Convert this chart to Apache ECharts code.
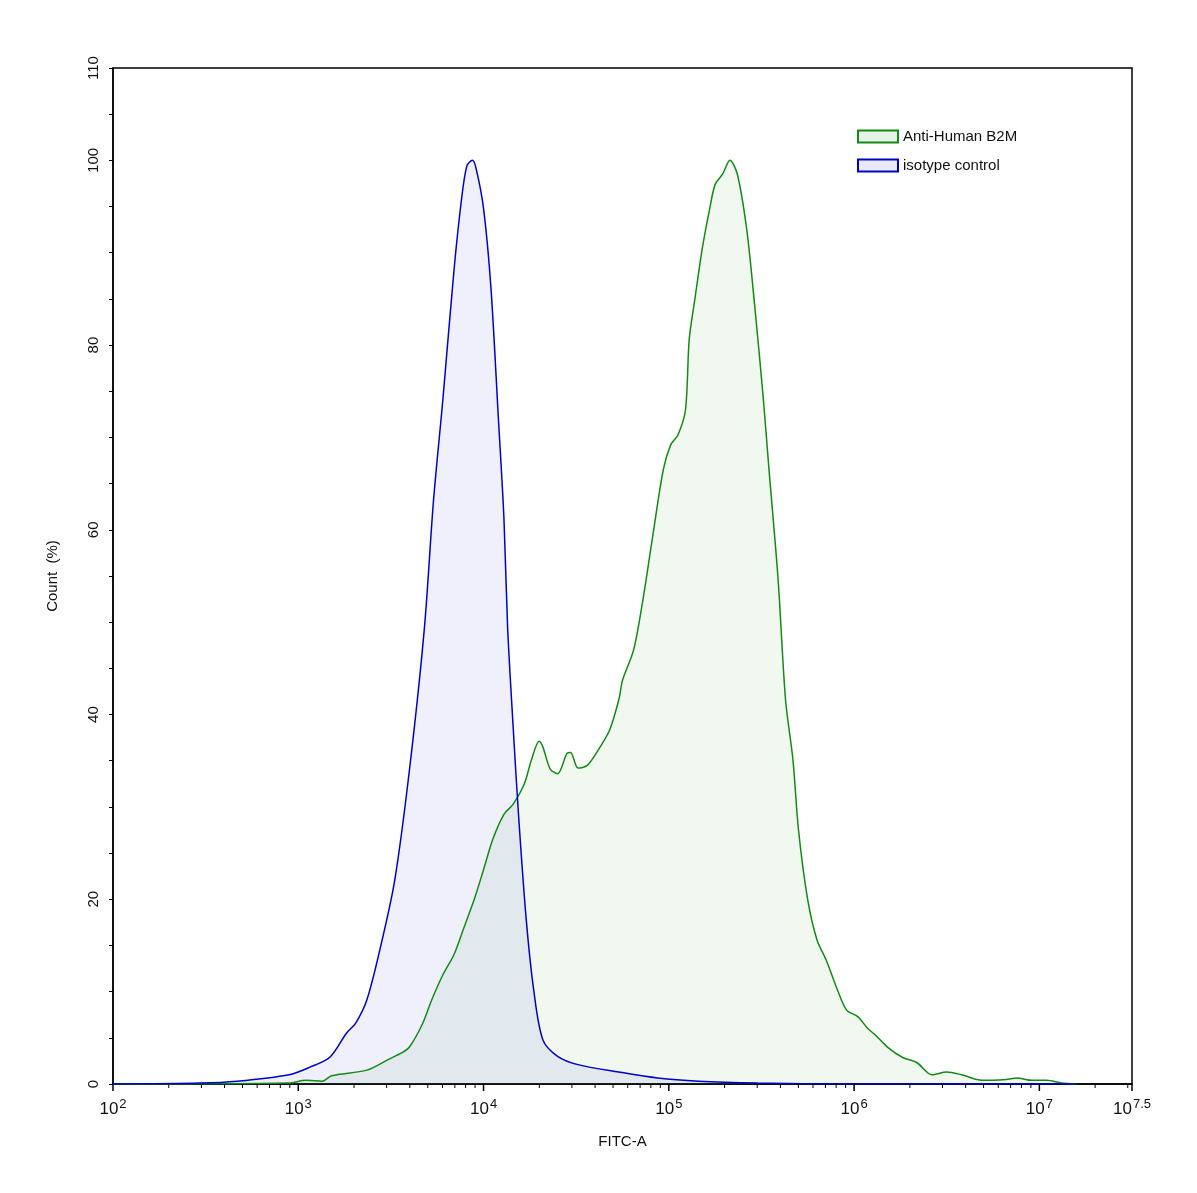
<!DOCTYPE html>
<html>
<head>
<meta charset="utf-8">
<title>FITC-A</title>
<script src="https://cdn.jsdelivr.net/npm/echarts@6/dist/echarts.min.js"></script>
<style>
    body { margin: 0; background: #fff; }
    #main { width: 1197px; height: 1193px; }
</style>
</head>
<body>
<div id="main"></div>
<script>
    // x values are log10(FITC-A)
    var isoX = [2.00, 2.47, 2.67, 2.95, 3.06, 3.17, 3.26, 3.31, 3.37, 3.44, 3.52, 3.60, 3.68, 3.73, 3.78, 3.84, 3.88, 3.91, 3.94, 3.96, 4.00, 4.04, 4.08, 4.11, 4.13, 4.16, 4.19, 4.23, 4.27, 4.32, 4.40, 4.51, 4.73, 4.94, 5.16, 5.48, 5.96, 7.20];
    var isoY = [0, 0.1, 0.3, 1.0, 1.8, 2.9, 5.5, 6.6, 9.1, 14.5, 22.0, 34.0, 49.2, 63.2, 74.0, 88.0, 95.6, 99.4, 100, 99.1, 94.8, 86.2, 72.1, 61.3, 49.4, 38.6, 28.8, 17.9, 10.3, 4.8, 3.0, 2.1, 1.3, 0.65, 0.3, 0.1, 0, 0];

    var b2mX = [2.00, 2.95, 3.04, 3.13, 3.18, 3.37, 3.49, 3.56, 3.60, 3.67, 3.72, 3.78, 3.84, 3.89, 3.95, 4.00, 4.05, 4.11, 4.16, 4.22, 4.26, 4.30, 4.32, 4.36, 4.40, 4.45, 4.47, 4.51, 4.56, 4.62, 4.68, 4.73, 4.75, 4.81, 4.86, 4.91, 4.97, 5.01, 5.05, 5.09, 5.11, 5.14, 5.18, 5.22, 5.25, 5.29, 5.33, 5.37, 5.42, 5.46, 5.51, 5.54, 5.59, 5.63, 5.67, 5.70, 5.75, 5.80, 5.85, 5.91, 5.96, 6.02, 6.07, 6.12, 6.18, 6.26, 6.34, 6.42, 6.50, 6.58, 6.69, 6.82, 6.88, 6.96, 7.04, 7.12, 7.20];
    var b2mY = [0, 0.1, 0.4, 0.3, 0.9, 1.5, 2.7, 3.4, 4.0, 6.5, 9.1, 11.8, 14.0, 16.7, 20.0, 23.2, 26.5, 29.2, 30.3, 32.5, 35.2, 37.1, 36.5, 34.1, 33.6, 35.8, 35.9, 34.2, 34.5, 36.2, 38.3, 41.6, 43.7, 47.0, 52.4, 58.9, 66.5, 69.2, 70.3, 73.0, 80.6, 84.9, 90.4, 94.7, 97.4, 98.5, 100, 98.5, 92.6, 85.0, 74.2, 66.7, 54.6, 41.6, 35.1, 27.5, 19.9, 15.6, 13.4, 10.2, 8.0, 7.3, 6.1, 5.2, 4.0, 2.9, 2.3, 1.0, 1.3, 1.0, 0.4, 0.5, 0.65, 0.4, 0.4, 0.1, 0];

    var yLabels = [0, 20, 40, 60, 80, 100, 110];

    // log tick positions: decades (major) and 2..9 (minor)
    var xTicks = [];
    for (var d = 2; d <= 7; d++) {
        xTicks.push([d, 1]);
        for (var m = 2; m <= 9; m++) {
            var v = d + Math.log10(m);
            if (v <= 7.5) xTicks.push([v, 0]);
        }
    }
    xTicks.push([7.5, 1]);

    function pairs(xs, ys) {
        return xs.map(function (x, i) { return [x, ys[i]]; });
    }

    var font = 'Liberation Sans, Arial, sans-serif';
    var chart = echarts.init(document.getElementById('main'));
    chart.setOption({
        animation: false,
        grid: {
            left: 113, right: 65, top: 68, bottom: 109,
            show: true, borderColor: '#000', borderWidth: 1.5, backgroundColor: 'transparent'
        },
        legend: {
            data: ['Anti-Human B2M', 'isotype control'],
            orient: 'vertical',
            left: 852, top: 124,
            icon: 'rect', itemWidth: 40, itemHeight: 12, itemGap: 14,
            textStyle: { fontFamily: font, fontSize: 15, color: '#111' }
        },
        xAxis: {
            type: 'value', min: 2, max: 7.5, interval: 0.5,
            name: 'FITC-A', nameLocation: 'middle', nameGap: 50,
            nameTextStyle: { fontFamily: font, fontSize: 15, color: '#111' },
            axisLine: { lineStyle: { color: '#000', width: 1.5 } },
            axisTick: { show: false },
            splitLine: { show: false },
            axisLabel: {
                margin: 14,
                formatter: function (v) {
                    if (v === 7.5) return '10{s|7.5}';
                    if (Math.abs(v - Math.round(v)) < 1e-6) return '10{s|' + Math.round(v) + '}';
                    return '';
                },
                fontFamily: font, fontSize: 17, color: '#111',
                rich: { s: { fontFamily: font, fontSize: 13, verticalAlign: 'top', padding: [0, 0, 10, 1] } }
            }
        },
        yAxis: {
            type: 'value', min: 0, max: 110, interval: 5,
            name: 'Count  (%)', nameLocation: 'middle', nameGap: 53,
            nameTextStyle: { fontFamily: font, fontSize: 15, color: '#111' },
            axisLine: { show: true, lineStyle: { color: '#000', width: 1.5 } },
            axisTick: { show: true, length: 4, lineStyle: { color: '#000' } },
            splitLine: { show: false },
            axisLabel: {
                rotate: 90, margin: 12,
                formatter: function (v) { return yLabels.indexOf(v) >= 0 ? String(v) : ''; },
                fontFamily: font, fontSize: 15, color: '#111'
            }
        },
        series: [{
            name: 'Anti-Human B2M', type: 'line', smooth: 0.3, symbol: 'none',
            data: pairs(b2mX, b2mY),
            itemStyle: { color: 'rgba(60,160,60,0.12)', borderColor: '#138a13', borderWidth: 1.5 },
            lineStyle: { color: '#138a13', width: 1.5 },
            areaStyle: { color: 'rgba(60,160,60,0.11)' }
        }, {
            name: 'isotype control', type: 'line', smooth: 0.3, symbol: 'none',
            data: pairs(isoX, isoY),
            itemStyle: { color: 'rgba(80,80,220,0.12)', borderColor: '#0000cc', borderWidth: 1.5 },
            lineStyle: { color: '#0000cc', width: 1.5 },
            areaStyle: { color: 'rgba(80,80,220,0.12)' }
        }, {
            type: 'custom', silent: true, clip: false,
            data: xTicks,
            renderItem: function (params, api) {
                var p = api.coord([api.value(0), 0]);
                var len = api.value(1) ? 7 : 4;
                return {
                    type: 'line',
                    shape: { x1: p[0], y1: p[1], x2: p[0], y2: p[1] + len },
                    style: { stroke: '#000', lineWidth: api.value(1) ? 1.5 : 1 }
                };
            }
        }]
    });
</script>
</body>
</html>
